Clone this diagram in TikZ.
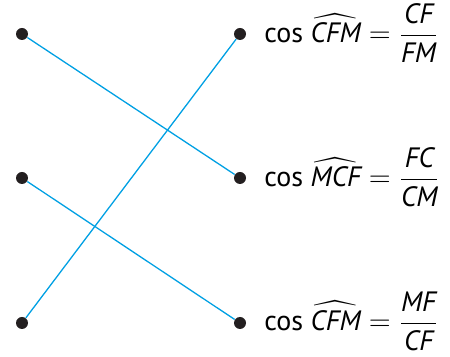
\documentclass[tikz,border=0pt]{standalone}
\usepackage{amsmath}
\usepackage{fontspec}
\setmainfont{PT Sans}
\usepackage{tikz}
\definecolor{linkblue}{RGB}{0,160,227}
\definecolor{dotgray}{RGB}{35,31,32}
\newcommand{\ang}[1]{\widehat{\mbox{\itshape #1}}}
\newcommand{\itx}[1]{\mbox{\itshape #1}}

\begin{document}
\begin{tikzpicture}[x=0.5pt, y=-0.5pt,
  dot/.style={circle, fill=dotgray, inner sep=0pt, minimum size=6pt},
  link/.style={linkblue, line width=0.65pt},
  lab/.style={anchor=west, inner sep=0pt, font=\fontsize{14}{17}\selectfont}]
  \useasboundingbox (0,0) rectangle (450,357);
  \node [dot] (L1) at (22,34) {};
  \node [dot] (L2) at (22,178) {};
  \node [dot] (L3) at (22,323) {};
  \node [dot] (R1) at (240,34) {};
  \node [dot] (R2) at (240,178) {};
  \node [dot] (R3) at (240,323) {};
  \draw [link] (L1) -- (R2);
  \draw [link] (L2) -- (R3);
  \draw [link] (L3) -- (R1);

  \node [lab] (T1) at (264,33) {cos $\ang{CFM} = \dfrac{\itx{CF}}{\itx{FM}}$};
  \node [lab] (T2) at (264,177) {cos $\ang{MCF} = \dfrac{\itx{FC}}{\itx{CM}}$};
  \node [lab] (T3) at (264,321) {cos $\ang{CFM} = \dfrac{\itx{MF}}{\itx{CF}}$};
\end{tikzpicture}
\end{document}
